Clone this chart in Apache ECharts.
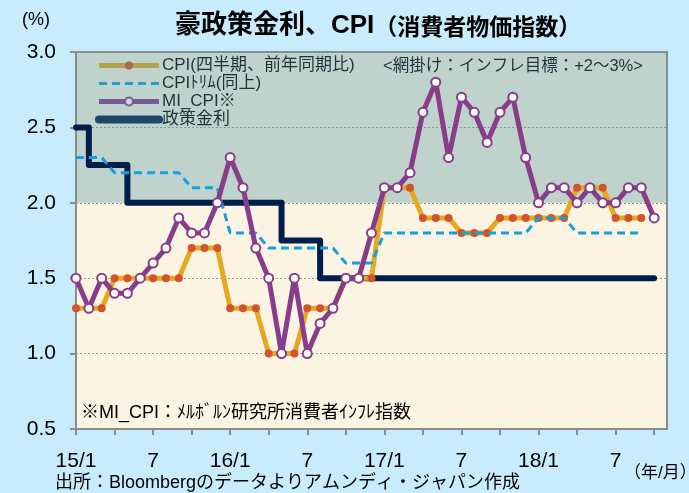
<!DOCTYPE html>
<html>
<head>
<meta charset="utf-8">
<script src="https://cdn.jsdelivr.net/npm/echarts@6/dist/echarts.min.js"></script>
<style>
  html, body { margin: 0; padding: 0; background: #c9ecfc; }
  #chart { width: 689px; height: 493px; }
</style>
</head>
<body>
<div id="chart"></div>
<script>
// 月次カテゴリ (15/1 〜 18/11)
var months = [
  '15/1','15/2','15/3','15/4','15/5','15/6','15/7','15/8','15/9','15/10','15/11','15/12',
  '16/1','16/2','16/3','16/4','16/5','16/6','16/7','16/8','16/9','16/10','16/11','16/12',
  '17/1','17/2','17/3','17/4','17/5','17/6','17/7','17/8','17/9','17/10','17/11','17/12',
  '18/1','18/2','18/3','18/4','18/5','18/6','18/7','18/8','18/9','18/10','18/11'
];

// CPI(四半期、前年同期比) - 四半期の値を各月に
var cpi = [
  1.3, 1.3, 1.3, 1.5, 1.5, 1.5, 1.5, 1.5, 1.5, 1.7, 1.7, 1.7,
  1.3, 1.3, 1.3, 1.0, 1.0, 1.0, 1.3, 1.3, 1.3, 1.5, 1.5, 1.5,
  2.1, 2.1, 2.1, 1.9, 1.9, 1.9, 1.8, 1.8, 1.8, 1.9, 1.9, 1.9,
  1.9, 1.9, 1.9, 2.1, 2.1, 2.1, 1.9, 1.9, 1.9
];

// CPIトリム(同上)
var cpiTrim = [
  2.3, 2.3, 2.3, 2.2, 2.2, 2.2, 2.2, 2.2, 2.2, 2.1, 2.1, 2.1,
  1.8, 1.8, 1.8, 1.7, 1.7, 1.7, 1.7, 1.7, 1.7, 1.6, 1.6, 1.6,
  1.8, 1.8, 1.8, 1.8, 1.8, 1.8, 1.8, 1.8, 1.8, 1.8, 1.8, 1.8,
  1.9, 1.9, 1.9, 1.8, 1.8, 1.8, 1.8, 1.8, 1.8
];

// MI_CPI (メルボルン研究所)
var miCpi = [
  1.5, 1.3, 1.5, 1.4, 1.4, 1.5, 1.6, 1.7, 1.9, 1.8, 1.8, 2.0,
  2.3, 2.1, 1.7, 1.5, 1.0, 1.5, 1.0, 1.2, 1.3, 1.5, 1.5, 1.8,
  2.1, 2.1, 2.2, 2.6, 2.8, 2.3, 2.7, 2.6, 2.4, 2.6, 2.7, 2.3,
  2.0, 2.1, 2.1, 2.0, 2.1, 2.0, 2.0, 2.1, 2.1, 1.9
];

// 政策金利
var policyRate = [
  2.5, 2.25, 2.25, 2.25, 2.0, 2.0, 2.0, 2.0, 2.0, 2.0, 2.0, 2.0,
  2.0, 2.0, 2.0, 2.0, 1.75, 1.75, 1.75, 1.5, 1.5, 1.5, 1.5, 1.5,
  1.5, 1.5, 1.5, 1.5, 1.5, 1.5, 1.5, 1.5, 1.5, 1.5, 1.5, 1.5,
  1.5, 1.5, 1.5, 1.5, 1.5, 1.5, 1.5, 1.5, 1.5, 1.5
];

// インフレ目標レンジ
var targetBand = [2.0, 3.0];

var latin = '"Liberation Sans", "Noto Sans CJK JP", sans-serif';
var jp = '"Noto Sans CJK JP", sans-serif';

var chart = echarts.init(document.getElementById('chart'));
chart.setOption({
  backgroundColor: '#c9ecfc',
  animation: false,
  title: {
    text: '{a|豪政策金利、CPI}{b|（消費者物価指数）}',
    left: 170,
    top: 8,
    textStyle: {
      rich: {
        a: { fontSize: 26, fontWeight: 'bold', color: '#000', fontFamily: latin },
        b: { fontSize: 23, fontWeight: 'bold', color: '#000', fontFamily: jp }
      }
    }
  },
  legend: {
    data: [
      { name: 'CPI(四半期、前年同期比)' },
      { name: 'CPIﾄﾘﾑ(同上)', itemStyle: { opacity: 0 } },
      { name: 'MI_CPI※' },
      { name: '政策金利', itemStyle: { opacity: 0 }, lineStyle: { width: 8 } }
    ],
    orient: 'vertical',
    left: 90,
    top: 52,
    itemWidth: 60,
    itemHeight: 10,
    itemGap: 1,
    z: 1,
    lineStyle: { width: 'inherit' },
    textStyle: { fontSize: 17, color: '#000', fontFamily: latin, padding: [0, 0, 0, -2] }
  },
  grid: {
    left: 76, right: 22, top: 52, bottom: 64,
    show: true,
    backgroundColor: '#fbf4e2',
    borderColor: '#8c8c8c',
    borderWidth: 2
  },
  xAxis: {
    type: 'category',
    data: months,
    boundaryGap: false,
    axisLine: { lineStyle: { color: '#8c8c8c', width: 2 } },
    axisTick: { interval: 2, length: 6, lineStyle: { color: '#8c8c8c', width: 2 } },
    axisLabel: {
      interval: 5,
      margin: 22,
      fontSize: 21,
      color: '#000',
      fontFamily: latin,
      formatter: function (v) {
        var p = v.split('/');
        return p[1] === '1' ? v : p[1];
      }
    },
    splitLine: { show: false }
  },
  yAxis: {
    type: 'value',
    min: 0.5,
    max: 3.0,
    interval: 0.5,
    axisLine: { show: true, lineStyle: { color: '#8c8c8c', width: 2 } },
    axisTick: { show: true, length: 6, lineStyle: { color: '#8c8c8c', width: 2 } },
    axisLabel: {
      margin: 20,
      fontSize: 21,
      color: '#000',
      fontFamily: latin,
      formatter: function (v) { return v.toFixed(1); }
    },
    splitLine: { lineStyle: { type: [2, 2], color: '#9a9a9a', width: 1 } }
  },
  series: [
    {
      name: '政策金利',
      type: 'line',
      data: policyRate,
      step: 'end',
      symbol: 'none',
      z: 3,
      lineStyle: { color: '#001e4b', width: 6, cap: 'round', join: 'round' },
      itemStyle: { color: '#001e4b' }
    },
    {
      name: 'CPI(四半期、前年同期比)',
      type: 'line',
      data: cpi,
      symbol: 'circle',
      symbolSize: 8,
      showAllSymbol: true,
      z: 4,
      lineStyle: { color: '#e6a820', width: 5 },
      itemStyle: { color: '#d4532f' }
    },
    {
      name: 'CPIﾄﾘﾑ(同上)',
      type: 'line',
      data: cpiTrim,
      symbol: 'none',
      z: 5,
      lineStyle: { color: '#14a0dc', width: 3, type: [8, 5] },
      itemStyle: { color: '#14a0dc' }
    },
    {
      name: 'MI_CPI※',
      type: 'line',
      data: miCpi,
      symbol: 'circle',
      symbolSize: 9,
      showAllSymbol: true,
      z: 6,
      lineStyle: { color: '#883d8a', width: 5 },
      itemStyle: { color: '#ffffff', borderColor: '#883d8a', borderWidth: 2 }
    },
    {
      name: 'band',
      type: 'line',
      data: [],
      z: 10,
      silent: true,
      markArea: {
        silent: true,
        itemStyle: { color: 'rgba(79,150,163,0.35)' },
        data: [[{ yAxis: targetBand[0] }, { yAxis: targetBand[1] }]]
      }
    }
  ],
  graphic: [
    { type: 'text', left: 22, top: 11, z: 1,
      style: { text: '(%)', fontSize: 18, fill: '#000', fontFamily: latin } },
    { type: 'text', left: 383, top: 58, z: 1,
      style: { text: '<網掛け：インフレ目標：+2～3%>', fontSize: 16.5, fill: '#000', fontFamily: latin } },
    { type: 'text', left: 81, top: 404, z: 1,
      style: { text: '※MI_CPI：ﾒﾙﾎﾞﾙﾝ研究所消費者ｲﾝﾌﾚ指数', fontSize: 18, fill: '#000', fontFamily: latin } },
    { type: 'text', left: 55, top: 474, z: 1,
      style: { text: '出所：Bloombergのデータよりアムンディ・ジャパン作成', fontSize: 18, fill: '#000', fontFamily: latin } },
    { type: 'text', left: 624, top: 465, z: 1,
      style: { text: '（年/月）', fontSize: 17, fill: '#000', fontFamily: latin } }
  ]
});
</script>
</body>
</html>
